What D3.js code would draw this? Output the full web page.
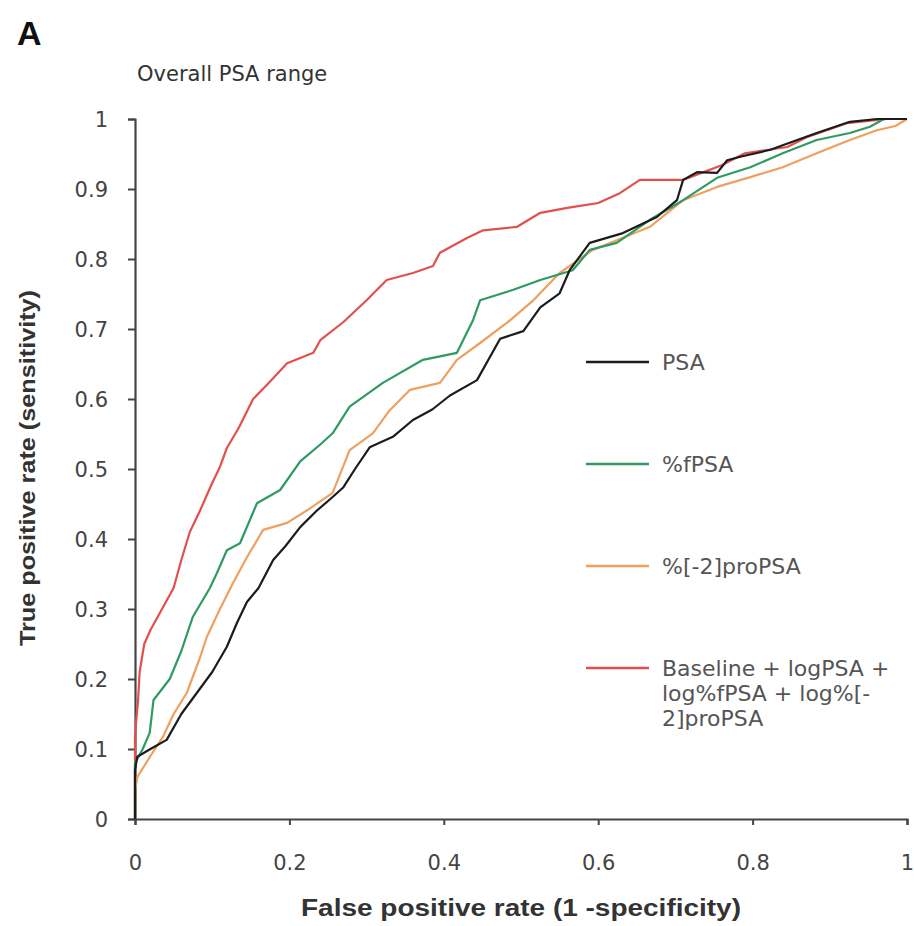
<!DOCTYPE html>
<html>
<head>
<meta charset="utf-8">
<script src="https://cdn.jsdelivr.net/npm/d3@7"></script>
<style>
  body { margin: 0; background: #fff; }
  text { font-family: "DejaVu Sans", Arial, sans-serif; }
</style>
</head>
<body>
<svg id="chart" width="914" height="926"></svg>
<script>
// ROC curves: [false positive rate, true positive rate]
var psa = [[0,0],[0,0.07],[0.003,0.089],[0.02,0.1],[0.041,0.113],[0.06,0.15],[0.08,0.18],[0.1,0.21],[0.119,0.246],[0.132,0.28],[0.145,0.31],[0.16,0.33],[0.179,0.37],[0.195,0.39],[0.214,0.417],[0.235,0.44],[0.256,0.46],[0.27,0.474],[0.285,0.5],[0.304,0.531],[0.334,0.546],[0.36,0.57],[0.385,0.585],[0.408,0.605],[0.443,0.627],[0.473,0.686],[0.503,0.697],[0.525,0.731],[0.55,0.751],[0.563,0.784],[0.589,0.823],[0.632,0.837],[0.676,0.86],[0.702,0.884],[0.71,0.913],[0.728,0.924],[0.754,0.923],[0.767,0.941],[0.784,0.946],[0.823,0.956],[0.848,0.966],[0.883,0.98],[0.926,0.996],[0.961,1],[1,1]];
var fpsa = [[0,0],[0,0.08],[0.01,0.1],[0.019,0.123],[0.024,0.17],[0.045,0.2],[0.06,0.24],[0.075,0.289],[0.097,0.33],[0.106,0.351],[0.119,0.384],[0.136,0.394],[0.158,0.451],[0.188,0.47],[0.214,0.511],[0.24,0.535],[0.256,0.551],[0.278,0.589],[0.321,0.623],[0.373,0.656],[0.417,0.666],[0.438,0.713],[0.447,0.741],[0.49,0.756],[0.525,0.77],[0.567,0.784],[0.589,0.813],[0.624,0.823],[0.667,0.856],[0.71,0.884],[0.754,0.916],[0.797,0.931],[0.839,0.951],[0.883,0.97],[0.926,0.98],[0.952,0.989],[0.97,1],[1,1]];
var propsa = [[0,0],[0,0.04],[0.003,0.06],[0.02,0.09],[0.036,0.117],[0.05,0.15],[0.067,0.18],[0.084,0.23],[0.093,0.26],[0.11,0.3],[0.127,0.337],[0.145,0.374],[0.166,0.413],[0.197,0.423],[0.223,0.441],[0.256,0.466],[0.278,0.527],[0.308,0.551],[0.33,0.584],[0.356,0.613],[0.395,0.623],[0.417,0.656],[0.447,0.68],[0.482,0.709],[0.516,0.741],[0.55,0.78],[0.593,0.813],[0.667,0.846],[0.71,0.884],[0.754,0.903],[0.797,0.917],[0.839,0.931],[0.883,0.951],[0.926,0.97],[0.961,0.984],[0.985,0.99],[1,1]];
var combined = [[0,0],[0,0.12],[0.004,0.17],[0.006,0.21],[0.012,0.25],[0.02,0.27],[0.035,0.3],[0.05,0.33],[0.06,0.37],[0.071,0.41],[0.084,0.44],[0.1,0.48],[0.11,0.503],[0.119,0.53],[0.135,0.56],[0.153,0.6],[0.175,0.625],[0.197,0.651],[0.231,0.666],[0.24,0.684],[0.27,0.71],[0.3,0.741],[0.326,0.77],[0.36,0.78],[0.386,0.79],[0.395,0.809],[0.43,0.83],[0.451,0.841],[0.495,0.846],[0.525,0.866],[0.56,0.873],[0.6,0.88],[0.628,0.894],[0.654,0.913],[0.71,0.913],[0.76,0.934],[0.79,0.951],[0.845,0.96],[0.87,0.974],[0.922,0.994],[0.974,1],[1,1]];

var seriesNames = ["PSA", "%fPSA", "%[-2]proPSA", "Baseline + logPSA + log%fPSA + log%[-2]proPSA"];
var legendLines = [["PSA"], ["%fPSA"], ["%[-2]proPSA"], ["Baseline + logPSA +", "log%fPSA + log%[-", "2]proPSA"]];
var seriesData = [psa, fpsa, propsa, combined];
var seriesColors = ["#1c1c1c", "#2f9a62", "#eea05e", "#e2504c"];
var xTicks = [0, 0.2, 0.4, 0.6, 0.8, 1];
var yTicks = [0, 0.1, 0.2, 0.3, 0.4, 0.5, 0.6, 0.7, 0.8, 0.9, 1];

// ---------------------------------------------------------------------------

var svg = d3.select("#chart");
var x = d3.scaleLinear().domain([0, 1]).range([135, 907]);
var y = d3.scaleLinear().domain([0, 1]).range([819, 119]);

svg.append("text")
    .attr("x", 17).attr("y", 45)
    .style("font-family", "Arial, 'Liberation Sans', sans-serif")
    .style("font-weight", "bold").style("font-size", "34px")
    .attr("fill", "#111")
    .text("A");

svg.append("text")
    .attr("x", 137).attr("y", 81)
    .style("font-size", "21px").attr("fill", "#333")
    .text("Overall PSA range");

var fmt = (d) => d === 0 || d === 1 ? String(d) : d3.format(".1f")(d);

var xAxis = svg.append("g")
    .attr("transform", `translate(0,${y(0)})`)
    .call(d3.axisBottom(x).tickValues(xTicks).tickFormat(fmt).tickSize(6).tickPadding(30));
var yAxis = svg.append("g")
    .attr("transform", `translate(${x(0)},0)`)
    .call(d3.axisLeft(y).tickValues(yTicks).tickFormat(fmt).tickSize(7).tickPadding(20));

[xAxis, yAxis].forEach(function (g) {
    g.select(".domain").attr("stroke", "#444").attr("stroke-width", 2.2);
    g.selectAll(".tick line").attr("stroke", "#444").attr("stroke-width", 2);
    g.selectAll(".tick text")
        .style("font-family", "'DejaVu Sans', sans-serif")
        .style("font-size", "21px").attr("fill", "#444");
});
yAxis.selectAll(".tick text").attr("dy", "0.36em");

// the source figure is slightly stretched sideways, so the titles get a fixed length
svg.append("text")
    .attr("x", 521).attr("y", 916)
    .attr("text-anchor", "middle")
    .attr("textLength", 440).attr("lengthAdjust", "spacingAndGlyphs")
    .style("font-family", "Arial, 'Liberation Sans', sans-serif")
    .style("font-weight", "bold").style("font-size", "23px")
    .attr("fill", "#333")
    .text("False positive rate (1 -specificity)");

svg.append("text")
    .attr("transform", "translate(35,468) rotate(-90)")
    .attr("text-anchor", "middle")
    .attr("textLength", 356).attr("lengthAdjust", "spacingAndGlyphs")
    .style("font-family", "Arial, 'Liberation Sans', sans-serif")
    .style("font-weight", "bold").style("font-size", "22px")
    .attr("fill", "#333")
    .text("True positive rate (sensitivity)");

// ---------------------------------------------------------------------------

var line = d3.line()
    .x((d) => x(d[0]))
    .y((d) => y(d[1]));

var drawOrder = [3, 2, 1, 0];
svg.append("g").selectAll("path.roc")
    .data(drawOrder)
    .enter()
    .append("path")
    .attr("class", "roc")
    .attr("d", (i) => line(seriesData[i]))
    .attr("fill", "none")
    .attr("stroke", (i) => seriesColors[i])
    .attr("stroke-width", 2.2)
    .attr("stroke-linejoin", "round");

// legend
var legend = svg.append("g").attr("transform", "translate(586,362)");
var items = legend.selectAll("g.item")
    .data(seriesNames)
    .enter()
    .append("g")
    .attr("class", "item")
    .attr("transform", (d, i) => `translate(0,${i * 102})`);
items.append("line")
    .attr("x1", 0).attr("x2", 63)
    .attr("stroke", (d, i) => seriesColors[i])
    .attr("stroke-width", 2.5);
items.append("text")
    .attr("x", 76).attr("y", 0)
    .style("font-size", "22px").attr("fill", "#555")
    .selectAll("tspan")
    .data((d, i) => legendLines[i])
    .enter()
    .append("tspan")
    .attr("x", 76)
    .attr("dy", (d, j) => j === 0 ? "0.36em" : "25px")
    .text((d) => d);
</script>
</body>
</html>
